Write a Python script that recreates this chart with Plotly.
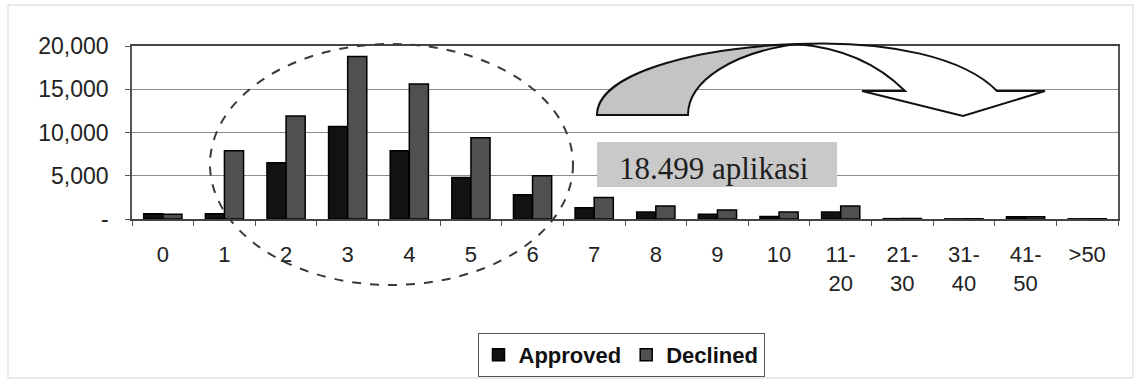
import plotly.graph_objects as go

# ---- data ----
categories = ["0", "1", "2", "3", "4", "5", "6", "7", "8", "9", "10",
              "11-20", "21-30", "31-40", "41-50", ">50"]
tick_labels = ["0", "1", "2", "3", "4", "5", "6", "7", "8", "9", "10",
               "11-<br>20", "21-<br>30", "31-<br>40", "41-<br>50", ">50"]
approved = [600, 600, 6500, 10700, 7900, 4800, 2800, 1300, 800, 550, 300, 800, 40, 20, 250, 20]
declined = [550, 7900, 11900, 18800, 15600, 9400, 5000, 2500, 1500, 1050, 800, 1500, 60, 30, 250, 30]
y_tick_vals = [0, 5000, 10000, 15000, 20000]
y_tick_text = ["-", "5,000", "10,000", "15,000", "20,000"]
note_text = "18.499 aplikasi"

# ---- layout geometry (pixels) ----
W, H = 1137, 380
L, R, T, B = 132, 19, 46, 161
PW, PH = W - L - R, H - T - B


def px(x):
    return (x - L) / PW


def py(y):
    return (H - B - y) / PH


FONT = "Liberation Sans, Arial, sans-serif"

fig = go.Figure()
fig.add_trace(go.Bar(x=categories, y=approved, name="Approved",
                     marker=dict(color="#121212", line=dict(color="#000000", width=1.5))))
fig.add_trace(go.Bar(x=categories, y=declined, name="Declined",
                     marker=dict(color="#505050", line=dict(color="#000000", width=1.5))))

shapes = []
# outer light frame
shapes.append(dict(type="rect", xref="paper", yref="paper",
                   x0=px(8), x1=px(1133), y0=py(5), y1=py(378),
                   line=dict(color="#d4d4d4", width=1), fillcolor="rgba(0,0,0,0)", layer="below"))
# dashed ellipse
shapes.append(dict(type="circle", xref="paper", yref="paper",
                   x0=px(210), x1=px(573), y0=py(285), y1=py(44),
                   line=dict(color="#3a3a3a", width=2, dash="dash"), layer="above"))
# grey box for note
shapes.append(dict(type="rect", xref="paper", yref="paper",
                   x0=px(597), x1=px(837), y0=py(187), y1=py(142),
                   line=dict(width=0), fillcolor="#c9c9c9", layer="above"))


def P(x, y):
    return f"{px(x):.5f},{py(y):.5f}"


# curved arrow: grey back part
grey_path = ("M " + P(597, 115) + " C " + P(597, 75) + " " + P(690, 48) + " " + P(797, 44) +
             " C " + P(735, 52) + " " + P(688, 80) + " " + P(688, 115) + " Z")
shapes.append(dict(type="path", xref="paper", yref="paper", path=grey_path,
                   fillcolor="#c4c4c4", line=dict(color="#111111", width=2), layer="above"))
# curved arrow: white front part with head
white_path = ("M " + P(797, 44) + " C " + P(890, 40) + " " + P(965, 58) + " " + P(997, 91) +
              " L " + P(1045, 91) + " L " + P(963, 116) + " L " + P(862, 91) + " L " + P(905, 91) +
              " C " + P(880, 66) + " " + P(845, 48) + " " + P(797, 44) + " Z")
shapes.append(dict(type="path", xref="paper", yref="paper", path=white_path,
                   fillcolor="#ffffff", line=dict(color="#111111", width=2), layer="above"))

annotations = [dict(xref="paper", yref="paper", x=px(714), y=py(168),
                    text=note_text, showarrow=False, xanchor="center", yanchor="middle",
                    font=dict(family="Liberation Serif, Times New Roman, serif", size=31, color="#1e1e1e"))]

fig.update_layout(
    width=W, height=H,
    margin=dict(l=L, r=R, t=T, b=B, autoexpand=False),
    paper_bgcolor="#ffffff", plot_bgcolor="#ffffff",
    barmode="group", bargap=0.38, bargroupgap=0.0,
    font=dict(family=FONT, color="#222222"),
    shapes=shapes, annotations=annotations,
    showlegend=True,
    legend=dict(orientation="h", x=px(621), xanchor="center", y=py(333), yanchor="top",
                bordercolor="#555555", borderwidth=1, bgcolor="#ffffff",
                font=dict(family=FONT, size=22, color="#111111", weight="bold"),
                itemwidth=30, traceorder="normal"),
    xaxis=dict(type="category", tickmode="array", tickvals=categories, ticktext=tick_labels,
               tickson="boundaries", ticks="outside", ticklen=5, tickcolor="#555555",
               showline=True, linecolor="#444444", linewidth=1.5, mirror=True,
               showgrid=False, tickfont=dict(size=22, color="#222222"),
               ticklabelstandoff=15, range=[-0.5, len(categories) - 0.5]),
    yaxis=dict(range=[0, 20000], tickmode="array", tickvals=y_tick_vals, ticktext=y_tick_text,
               ticks="outside", ticklen=5, tickcolor="#555555",
               showline=True, linecolor="#555555", linewidth=1.5, mirror=True,
               showgrid=True, gridcolor="#8c8c8c", gridwidth=1, zeroline=False,
               tickfont=dict(size=23, color="#222222"), ticklabelstandoff=12),
)

fig.write_html("out.html", config={"displayModeBar": False},
               post_script="document.body.style.margin='0px';")
